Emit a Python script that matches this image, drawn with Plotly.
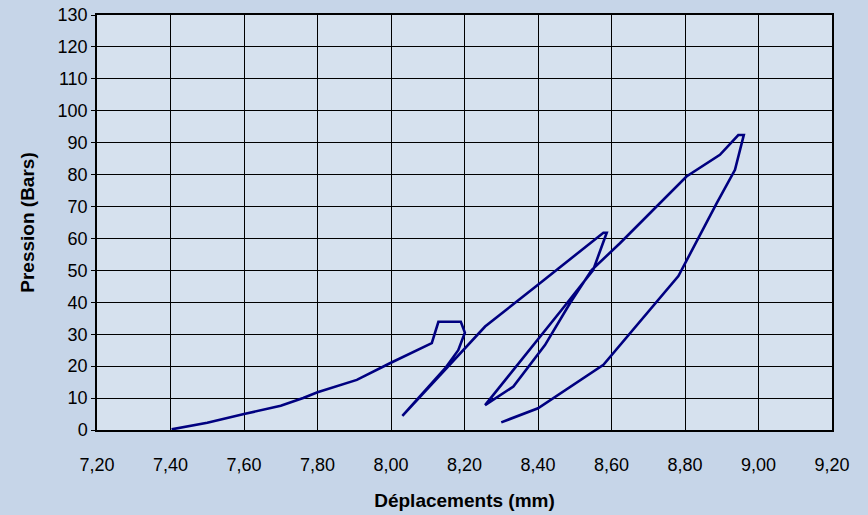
import plotly.graph_objects as go

# Displacement (mm) and pressure (bars) in drawing order
deplacement = [7.403, 7.50, 7.60, 7.70, 7.761, 7.80, 7.907, 7.997, 8.111, 8.129, 8.190, 8.201,
               8.183, 8.147, 8.031, 8.256, 8.40, 8.578, 8.587, 8.55, 8.464, 8.256,
               8.333, 8.419, 8.487, 8.546, 8.623, 8.804, 8.895, 8.945, 8.960,
               8.936, 8.886, 8.782, 8.578, 8.455, 8.40, 8.30]
pression = [0.2, 2.3, 5.0, 7.6, 10.0, 11.8, 15.7, 20.9, 27.2, 33.9, 33.9, 30.5,
            25.0, 19.3, 4.4, 32.4, 45.5, 61.8, 61.8, 50.1, 37.6, 7.8,
            13.6, 26.6, 39.7, 50.1, 58.5, 79.4, 86.2, 92.4, 92.4,
            81.5, 71.0, 48.2, 20.4, 11.0, 6.8, 2.4]

x_ticks = [7.2, 7.4, 7.6, 7.8, 8.0, 8.2, 8.4, 8.6, 8.8, 9.0, 9.2]
x_labels = ["7,20", "7,40", "7,60", "7,80", "8,00", "8,20", "8,40", "8,60", "8,80", "9,00", "9,20"]
y_ticks = list(range(0, 131, 10))

fig = go.Figure()
fig.add_trace(go.Scatter(
    x=deplacement, y=pression, mode="lines",
    line=dict(color="#000080", width=2.6),
    showlegend=False, hoverinfo="skip",
))

font_family = "Liberation Sans, Arial, sans-serif"
fig.update_layout(
    width=868, height=515,
    margin=dict(l=97, r=36, t=15, b=85),
    paper_bgcolor="#c6d5e8",
    plot_bgcolor="#d6e1ee",
    font=dict(family=font_family, color="black", size=18),
)
fig.update_xaxes(
    range=[7.2, 9.2], tickvals=x_ticks, ticktext=x_labels,
    showgrid=True, gridcolor="black", gridwidth=1,
    showline=True, linecolor="black", linewidth=1.5, mirror=True,
    zeroline=False, ticks="", ticklabelstandoff=18, automargin=False,
    tickfont=dict(size=18),
    title=dict(text="<b>Déplacements (mm)</b>", font=dict(size=19), standoff=19),
)
fig.update_yaxes(
    range=[0, 130], tickvals=y_ticks,
    showgrid=True, gridcolor="black", gridwidth=1,
    showline=True, linecolor="black", linewidth=1.5, mirror=True,
    zeroline=False, ticks="outside", ticklen=4, tickcolor="black", automargin=False,
    tickfont=dict(size=18),
    title=dict(text="<b>Pression (Bars)</b>", font=dict(size=19), standoff=18),
)

fig.write_html("out.html")
